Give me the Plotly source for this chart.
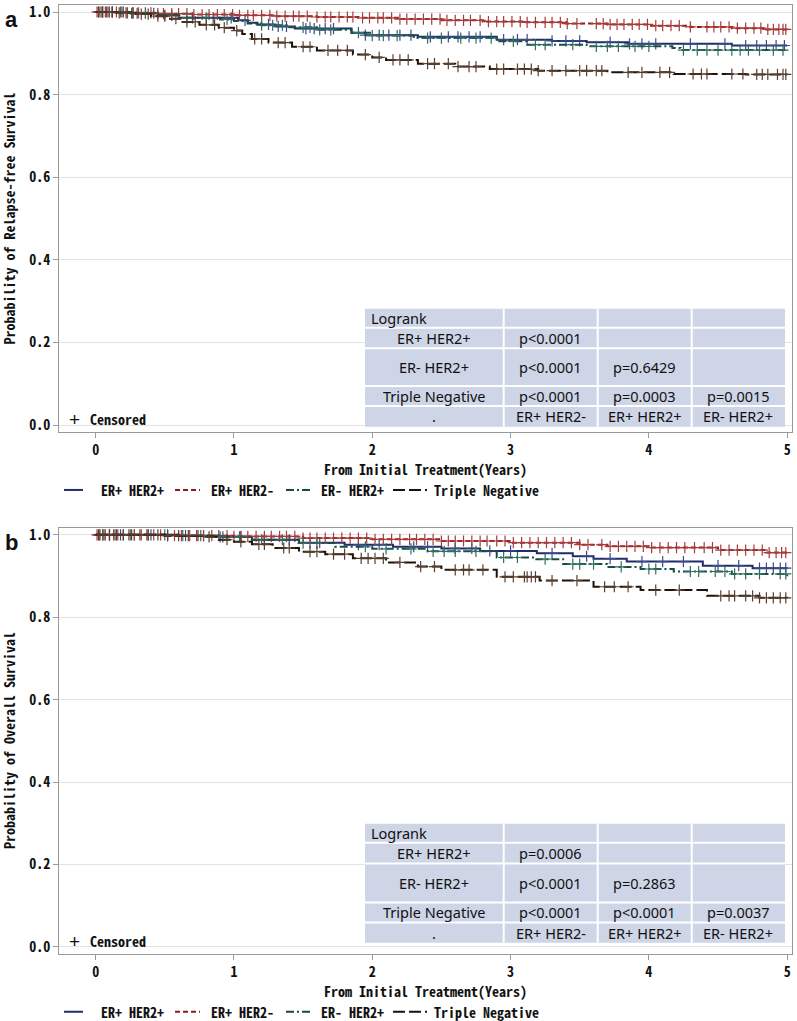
import numpy as np
import plotly.graph_objects as go

# ---- data -------------------------------------------------------------
groups = ["ER+ HER2+", "ER+ HER2-", "ER- HER2+", "Triple Negative"]

# panel a: relapse-free survival, step points (years, probability)
rfs_t = {
    "ER+ HER2+": [0, 0.25, 0.45, 0.6, 1.03, 1.1, 1.17, 1.3, 1.44, 1.85, 1.95, 2.33, 2.9, 3.3, 3.55, 3.85, 4.6, 5.0],
    "ER+ HER2-": [0, 0.2, 0.45, 0.7, 1.0, 1.3, 1.6, 1.9, 2.2, 2.5, 2.8, 3.1, 3.4, 3.7, 4.0, 4.3, 4.6, 4.85, 5.0],
    "ER- HER2+": [0, 0.25, 0.45, 0.62, 0.9, 1.0, 1.1, 1.2, 1.4, 1.6, 1.85, 2.0, 2.3, 2.9, 3.12, 3.55, 4.17, 4.23, 5.0],
    "Triple Negative": [0, 0.15, 0.29, 0.4, 0.53, 0.63, 0.75, 0.89, 1.0, 1.06, 1.13, 1.25, 1.42, 1.6, 1.86, 2.0, 2.1,
                        2.33, 2.6, 2.85, 3.2, 3.7, 4.18, 4.7, 5.0],
}
rfs_s = {
    "ER+ HER2+": [1.0, 0.997, 0.992, 0.986, 0.980, 0.974, 0.970, 0.965, 0.960, 0.950, 0.944, 0.940, 0.933, 0.930,
                  0.927, 0.923, 0.919, 0.919],
    "ER+ HER2-": [1.0, 0.998, 0.996, 0.994, 0.992, 0.990, 0.988, 0.986, 0.983, 0.980, 0.977, 0.975, 0.972, 0.970,
                  0.967, 0.964, 0.961, 0.958, 0.958],
    "ER- HER2+": [1.0, 0.997, 0.992, 0.986, 0.982, 0.978, 0.972, 0.968, 0.963, 0.957, 0.950, 0.943, 0.937, 0.929,
                  0.921, 0.917, 0.913, 0.908, 0.908],
    "Triple Negative": [1.0, 0.998, 0.995, 0.990, 0.984, 0.976, 0.969, 0.962, 0.955, 0.947, 0.935, 0.926, 0.916,
                        0.907, 0.897, 0.890, 0.884, 0.875, 0.868, 0.862, 0.858, 0.854, 0.850, 0.849, 0.849],
}
rfs_cens = {
    "ER+ HER2+": [0.05, 0.12, 0.2, 0.3, 0.42, 0.55, 0.7, 0.85, 0.98, 1.08, 1.25, 1.32, 1.38, 1.52, 1.58, 1.66, 1.72,
                  1.95, 2.05, 2.12, 2.2, 2.28, 2.42, 2.55, 2.62, 2.7, 2.78, 2.95, 3.05, 3.12, 3.3, 3.4, 3.5, 3.72,
                  3.86, 3.95, 4.05, 4.3, 4.55, 4.7, 4.78, 4.85, 4.92, 4.98],
    "ER+ HER2-": [0.01, 0.03, 0.05, 0.07, 0.09, 0.12, 0.15, 0.19, 0.23, 0.27, 0.31, 0.36, 0.4, 0.45, 0.49, 0.55,
                  0.6, 0.66, 0.71, 0.77, 0.82, 0.88, 0.93, 0.99, 1.04, 1.1, 1.14, 1.2, 1.26, 1.31, 1.37, 1.43, 1.47,
                  1.53, 1.6, 1.66, 1.7, 1.76, 1.82, 1.86, 1.93, 1.98, 2.04, 2.08, 2.14, 2.2, 2.25, 2.31, 2.37, 2.43,
                  2.49, 2.54, 2.6, 2.66, 2.71, 2.78, 2.84, 2.9, 2.95, 3.01, 3.07, 3.12, 3.18, 3.25, 3.3, 3.36, 3.41,
                  3.48, 3.62, 3.67, 3.72, 3.77, 3.82, 3.88, 3.93, 3.99, 4.05, 4.1, 4.16, 4.22, 4.3, 4.42, 4.47, 4.52,
                  4.58, 4.64, 4.7, 4.76, 4.81, 4.86, 4.9, 4.94, 4.97, 4.99],
    "ER- HER2+": [0.04, 0.1, 0.18, 0.26, 0.36, 0.5, 0.66, 0.8, 0.95, 1.2, 1.28, 1.35, 1.5, 1.55, 1.62, 1.7, 1.9, 2.0,
                  2.08, 2.18, 2.4, 2.5, 2.64, 2.75, 2.86, 3.02, 3.18, 3.25, 3.45, 3.62, 3.7, 3.78, 3.9, 4.0, 4.25,
                  4.35, 4.42, 4.5, 4.6, 4.66, 4.72, 4.8, 4.9, 4.97],
    "Triple Negative": [0.02, 0.05, 0.08, 0.12, 0.17, 0.22, 0.27, 0.33, 0.38, 0.45, 0.5, 0.58, 0.66, 0.72, 0.8, 0.86,
                        0.93, 1.02, 1.15, 1.2, 1.32, 1.37, 1.5, 1.55, 1.68, 1.75, 1.82, 1.95, 2.05, 2.15, 2.2, 2.26,
                        2.4, 2.45, 2.55, 2.62, 2.7, 2.75, 2.9, 2.95, 3.05, 3.1, 3.15, 3.2, 3.3, 3.4, 3.5, 3.55, 3.62,
                        3.66, 3.85, 3.95, 4.08, 4.15, 4.32, 4.38, 4.42, 4.6, 4.68, 4.78, 4.82, 4.86, 4.93, 4.97, 4.99],
}

# panel b: overall survival
os_t = {
    "ER+ HER2+": [0, 0.6, 0.9, 1.13, 1.47, 1.8, 2.15, 2.5, 2.78, 3.19, 3.45, 3.6, 3.84, 4.39, 4.75, 5.0],
    "ER+ HER2-": [0, 0.5, 1.0, 1.5, 2.0, 2.5, 3.0, 3.5, 3.7, 4.0, 4.5, 4.85, 5.0],
    "ER- HER2+": [0, 0.6, 0.9, 1.13, 1.47, 1.73, 2.0, 2.4, 2.9, 3.17, 3.38, 3.7, 3.94, 4.18, 4.6, 5.0],
    "Triple Negative": [0, 0.5, 0.8, 0.89, 1.0, 1.13, 1.28, 1.47, 1.66, 1.86, 2.1, 2.33, 2.5, 2.9, 3.21, 3.6, 3.94,
                        4.42, 4.8, 5.0],
}
os_s = {
    "ER+ HER2+": [1.0, 0.998, 0.995, 0.988, 0.981, 0.976, 0.971, 0.967, 0.961, 0.955, 0.948, 0.942, 0.935, 0.925,
                  0.919, 0.918],
    "ER+ HER2-": [1.0, 0.998, 0.996, 0.992, 0.989, 0.985, 0.981, 0.976, 0.972, 0.969, 0.963, 0.957, 0.955],
    "ER- HER2+": [1.0, 0.998, 0.995, 0.988, 0.980, 0.971, 0.966, 0.960, 0.945, 0.941, 0.929, 0.922, 0.917, 0.911,
                  0.905, 0.898],
    "Triple Negative": [1.0, 0.998, 0.995, 0.988, 0.983, 0.977, 0.968, 0.959, 0.953, 0.943, 0.933, 0.923, 0.915,
                        0.898, 0.889, 0.874, 0.866, 0.852, 0.847, 0.846],
}
os_cens = {
    "ER+ HER2+": [0.03, 0.1, 0.18, 0.28, 0.4, 0.52, 0.65, 0.78, 0.92, 1.05, 1.22, 1.4, 1.55, 1.62, 1.9, 2.05, 2.3,
                  2.4, 2.6, 2.72, 2.85, 3.0, 3.3, 3.55, 3.72, 3.95, 4.1, 4.25, 4.5, 4.65, 4.8, 4.85, 4.9, 4.95, 4.99],
    "ER+ HER2-": [0.01, 0.03, 0.05, 0.07, 0.1, 0.13, 0.16, 0.2, 0.24, 0.28, 0.33, 0.37, 0.42, 0.47, 0.52, 0.57,
                  0.62, 0.68, 0.73, 0.78, 0.84, 0.89, 0.95, 1.0, 1.05, 1.1, 1.16, 1.22, 1.27, 1.33, 1.38, 1.44, 1.5,
                  1.55, 1.6, 1.66, 1.72, 1.78, 1.84, 1.9, 1.96, 2.02, 2.08, 2.14, 2.2, 2.27, 2.32, 2.38, 2.44, 2.5,
                  2.55, 2.6, 2.66, 2.72, 2.78, 2.83, 2.9, 2.96, 3.02, 3.08, 3.14, 3.2, 3.26, 3.32, 3.38, 3.44, 3.5,
                  3.56, 3.66, 3.72, 3.78, 3.84, 3.9, 3.96, 4.02, 4.08, 4.14, 4.2, 4.26, 4.33, 4.4, 4.46, 4.52, 4.58,
                  4.64, 4.7, 4.76, 4.82, 4.87, 4.92, 4.96, 4.99],
    "ER- HER2+": [0.05, 0.14, 0.25, 0.38, 0.5, 0.63, 0.76, 0.9, 1.04, 1.2, 1.35, 1.5, 1.6, 1.95, 2.1, 2.28, 2.44,
                  2.52, 2.6, 2.75, 2.95, 3.05, 3.25, 3.45, 3.5, 3.6, 3.8, 4.0, 4.05, 4.3, 4.36, 4.48, 4.55, 4.62, 4.7,
                  4.8, 4.95, 4.99],
    "Triple Negative": [0.02, 0.06, 0.1, 0.15, 0.2, 0.26, 0.32, 0.38, 0.45, 0.52, 0.6, 0.67, 0.74, 0.82, 0.95, 1.05,
                        1.18, 1.22, 1.36, 1.4, 1.55, 1.6, 1.72, 1.8, 1.92, 1.97, 2.02, 2.08, 2.2, 2.35, 2.45, 2.6,
                        2.66, 2.7, 2.8, 2.96, 3.02, 3.1, 3.12, 3.15, 3.18, 3.3, 3.48, 3.68, 3.75, 3.85, 4.05, 4.22,
                        4.52, 4.58, 4.62, 4.7, 4.75, 4.8, 4.85, 4.9, 4.95, 4.99],
}

# logrank table: row labels, p-values, column labels
lr_rows = ["ER+ HER2+", "ER- HER2+", "Triple Negative"]
lr_cols = ["ER+ HER2-", "ER+ HER2+", "ER- HER2+"]
lr_rfs = [["p<0.0001", "", ""],
          ["p<0.0001", "p=0.6429", ""],
          ["p<0.0001", "p=0.0003", "p=0.0015"]]
lr_os = [["p=0.0006", "", ""],
         ["p<0.0001", "p=0.2863", ""],
         ["p<0.0001", "p<0.0001", "p=0.0037"]]

yticks = [0, 0.2, 0.4, 0.6, 0.8, 1.0]
xticks = [0, 1, 2, 3, 4, 5]

# ---- styles -------------------------------------------------------------
W, H = 797, 1021
L, R, T, B = 59, 5, 1, 67
MONO = "Noto Sans Mono CJK JP, DejaVu Sans Mono, monospace"
SANS = "Noto Sans, Liberation Sans, Arial"

line_col = {"ER+ HER2+": "#1f2d6b", "ER+ HER2-": "#8e1b1b", "ER- HER2+": "#1a4d42", "Triple Negative": "#1c120a"}
mark_col = {"ER+ HER2+": "#3b4a8a", "ER+ HER2-": "#a83a3a", "ER- HER2+": "#2f6e60", "Triple Negative": "#5a3e2c"}
dashes = {"ER+ HER2+": "solid", "ER+ HER2-": "5px,3px", "ER- HER2+": "8px,3px,2px,3px", "Triple Negative": "12px,4px"}


def px(x):
    return (x - L) / (W - L - R)


def py(y):
    return (H - B - y) / (H - T - B)


def step_at(t, s, c):
    idx = np.searchsorted(np.array(t), np.array(c), side="right") - 1
    return np.array(s)[idx]


fig = go.Figure()

panels = [
    dict(xa="x", ya="y", t=rfs_t, s=rfs_s, c=rfs_cens),
    dict(xa="x2", ya="y2", t=os_t, s=os_s, c=os_cens),
]
for p in panels:
    for g in groups:
        fig.add_trace(go.Scatter(
            x=p["t"][g], y=p["s"][g], xaxis=p["xa"], yaxis=p["ya"],
            mode="lines", line=dict(shape="hv", color=line_col[g], width=2, dash=dashes[g]),
            showlegend=False, hoverinfo="skip",
        ))
        fig.add_trace(go.Scatter(
            x=p["c"][g], y=step_at(p["t"][g], p["s"][g], p["c"][g]), xaxis=p["xa"], yaxis=p["ya"],
            mode="markers", marker=dict(symbol="cross-thin", size=8, line=dict(width=1.2, color=mark_col[g])),
            showlegend=False, hoverinfo="skip",
        ))

axis_common = dict(showline=True, mirror=True, linecolor="#9a9a9a", linewidth=1, ticks="outside", ticklen=5,
                   tickcolor="#9a9a9a", zeroline=False,
                   tickfont=dict(family=MONO, size=14, color="#111", weight="bold"))
top_dom = [py(430), py(1)]
bot_dom = [py(954), py(526)]
fig.update_layout(
    width=W, height=H, margin=dict(l=L, r=R, t=T, b=B),
    paper_bgcolor="white", plot_bgcolor="white",
    xaxis=dict(axis_common, domain=[0, 1], range=[-0.265, 5.035], tickvals=xticks, showgrid=False, anchor="y"),
    yaxis=dict(axis_common, domain=top_dom, range=[-0.017, 1.017], tickvals=yticks,
               ticktext=[f"{v:.1f}" for v in yticks], showgrid=True, gridcolor="#e3e3e3", anchor="x"),
    xaxis2=dict(axis_common, domain=[0, 1], range=[-0.265, 5.035], tickvals=xticks, showgrid=False, anchor="y2"),
    yaxis2=dict(axis_common, domain=bot_dom, range=[-0.017, 1.017], tickvals=yticks,
                ticktext=[f"{v:.1f}" for v in yticks], showgrid=True, gridcolor="#e3e3e3", anchor="x2"),
)

shapes = []
ann = []


def text(x, y, s, size=14, family=MONO, xanchor="center", angle=0, bold=False):
    ann.append(dict(x=px(x), y=py(y), xref="paper", yref="paper", text=s,
                    showarrow=False, xanchor=xanchor, yanchor="middle", textangle=angle,
                    font=dict(family=family, size=size, color="#111", weight="bold" if bold else "normal")))


# per-panel decorations (pixel layout)
col_edges = [365, 503.7, 597.7, 691.7, 785]
for letter, ytitle, ftop, fbot, rows, table in [
    ("a", "Probability of Relapse-free Survival", 1, 430, [306, 325, 345.7, 383.7, 403.7, 424.5], lr_rfs),
    ("b", "Probability of Overall Survival", 526, 954, [823.3, 842.3, 863, 902.3, 922.3, 942.7], lr_os),
]:
    text(11, ftop + 15, letter, size=22, family="Liberation Sans", bold=True)
    text(9, (ftop + fbot) / 2, ytitle, angle=-90, bold=True)
    text(425.5, fbot + 37, "From Initial Treatment(Years)", bold=True)
    # censored key
    text(74, fbot - 13, "+", size=19, family="Liberation Sans")
    text(88, fbot - 13, "Censored", xanchor="left", bold=True)
    # logrank table
    shapes.append(dict(type="rect", xref="paper", yref="paper", x0=px(col_edges[0]), x1=px(col_edges[-1]),
                       y0=py(rows[-1]), y1=py(rows[0]), fillcolor="#cdd5e6", line=dict(width=0), layer="above"))
    for xe in col_edges[1:-1]:
        shapes.append(dict(type="line", xref="paper", yref="paper", x0=px(xe), x1=px(xe), y0=py(rows[-1]),
                           y1=py(rows[0]), line=dict(color="white", width=2)))
    for ye in rows[1:-1]:
        shapes.append(dict(type="line", xref="paper", yref="paper", x0=px(col_edges[0]), x1=px(col_edges[-1]),
                           y0=py(ye), y1=py(ye), line=dict(color="white", width=2)))
    cx = [(col_edges[i] + col_edges[i + 1]) / 2 for i in range(4)]
    cy = [(rows[i] + rows[i + 1]) / 2 for i in range(5)]
    text(369, cy[0], "Logrank", size=14.5, family=SANS, xanchor="left")
    for i, rl in enumerate(lr_rows):
        text(cx[0], cy[i + 1], rl, size=14.5, family=SANS)
        for j, v in enumerate(table[i]):
            if v:
                text(cx[j + 1], cy[i + 1], v, size=14.5, family=SANS)
    text(cx[0], cy[4], ".", size=14.5, family=SANS)
    for j, cl in enumerate(lr_cols):
        text(cx[j + 1], cy[4], cl, size=14.5, family=SANS)
    # legend
    leg_y = fbot + 58
    seg = [(64, 83), (175, 200), (286, 313), (393, 427)]
    lab_x = [98.7, 209, 319, 432]
    for g, (x0, x1), lx in zip(groups, seg, lab_x):
        shapes.append(dict(type="line", xref="paper", yref="paper", x0=px(x0), x1=px(x1), y0=py(leg_y),
                           y1=py(leg_y), line=dict(color=line_col[g], width=2, dash=dashes[g])))
        text(lx, leg_y, g, xanchor="left", bold=True)

fig.update_layout(shapes=shapes, annotations=ann)
fig.write_html("out.html", config={"displayModeBar": False},
               post_script="document.body.style.margin='0px';")
